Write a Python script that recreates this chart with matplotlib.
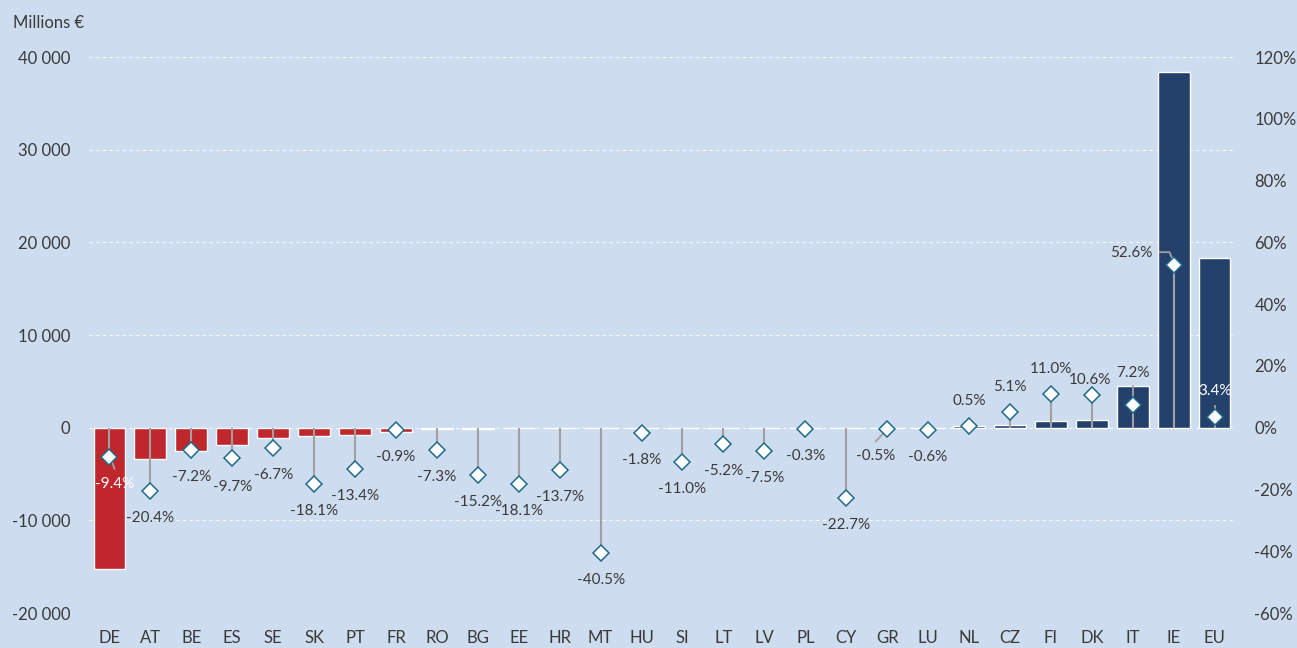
import matplotlib
matplotlib.use("Agg")
import matplotlib.pyplot as plt
import matplotlib.transforms as mtransforms
from matplotlib.ticker import FuncFormatter, FixedLocator

plt.rcParams['font.family'] = ['Lato', 'DejaVu Sans']

# Change in value (millions €) and percentage change, by country
countries = ["DE", "AT", "BE", "ES", "SE", "SK", "PT", "FR", "RO", "BG", "EE", "HR", "MT", "HU",
             "SI", "LT", "LV", "PL", "CY", "GR", "LU", "NL", "CZ", "FI", "DK", "IT", "IE", "EU"]
change_meur = [-15300, -3400, -2500, -1850, -1150, -850, -750, -500, -150, -120, -80, -60, -20, -10,
               -20, -15, -10, -5, -10, 10, 15, 140, 290, 680, 860, 4550, 38400, 18300]
change_pct = [-9.4, -20.4, -7.2, -9.7, -6.7, -18.1, -13.4, -0.9, -7.3, -15.2, -18.1, -13.7, -40.5, -1.8,
              -11.0, -5.2, -7.5, -0.3, -22.7, -0.5, -0.6, 0.5, 5.1, 11.0, 10.6, 7.2, 52.6, 3.4]

left_ticks = [-20000, -10000, 0, 10000, 20000, 30000, 40000]
right_ticks = [-60, -40, -20, 0, 20, 40, 60, 80, 100, 120]

BG = "#CDDCEE"
RED = "#C0272D"
NAVY = "#23416B"
TXT = "#3A3A3A"
GREY = "#A0A0A0"
EDGE = "#1F6A8A"

fig = plt.figure(figsize=(12.97, 6.48), dpi=100, facecolor=BG)
ax = fig.add_axes([89 / 1297, 35 / 648, (1235 - 89) / 1297, (613 - 57) / 648])
ax.set_facecolor(BG)

x = list(range(len(countries)))
colors = [RED if v < 0 else NAVY for v in change_meur]
ax.bar(x, change_meur, width=0.78, color=colors, edgecolor="white", linewidth=1.0, zorder=2)

ax.set_xlim(-0.5, len(countries) - 0.5)
ax.set_ylim(-20000, 40000)
ax.yaxis.set_major_locator(FixedLocator(left_ticks))
ax.yaxis.set_major_formatter(FuncFormatter(lambda v, p: f"{int(v):,}".replace(",", " ")))
ax.set_xticks(x)
ax.set_xticklabels(countries)
ax.grid(axis="y", color="white", linestyle=(0, (3, 3)), linewidth=0.8, alpha=0.85, zorder=0)
ax.set_axisbelow(True)
for s in ax.spines.values():
    s.set_visible(False)
ax.tick_params(axis="both", length=0, labelsize=12, labelcolor=TXT)
ax.tick_params(axis="y", pad=13.5)
ax.tick_params(axis="x", pad=12.5)

ax2 = ax.twinx()
ax2.set_ylim(-60, 120)
ax2.yaxis.set_major_locator(FixedLocator(right_ticks))
ax2.yaxis.set_major_formatter(FuncFormatter(lambda v, p: f"{int(v)}%"))
for s in ax2.spines.values():
    s.set_visible(False)
ax2.tick_params(axis="y", length=0, labelsize=12, labelcolor=TXT, pad=14)

# drop lines from zero to each percentage marker
ax2.vlines(x, 0, change_pct, color=GREY, linewidth=1.5, zorder=3)
ax2.plot(x, change_pct, linestyle="none", marker="D", markersize=8,
         markerfacecolor="white", markeredgecolor=EDGE, markeredgewidth=1.1, zorder=5)

# label placement (pixel offsets from marker: dx right, dy down)
label_offsets = {"DE": (5, 27), "ES": (0, 29), "GR": (-11, 27), "DK": (-2, -15),
                 "IT": (0, -32), "IE": (-21, -12), "EU": (1, -26)}
label_ha = {"IE": "right"}
white_labels = {"DE", "EU"}
leaders = {"DE": [(1, 1), (5, 12)], "GR": [(-2, 2), (-11, 12)],
           "IT": [(0, 0), (0, -19)], "IE": [(0, -3), (-4, -13), (-14, -13)],
           "EU": [(0, 0), (0, -11)]}

for i, (c, p) in enumerate(zip(countries, change_pct)):
    dx, dy = label_offsets.get(c, (0, 27) if p < 0 else (0, -25))
    ax2.annotate(f"{p:.1f}%", (i, p), xytext=(dx * 0.72, -dy * 0.72), textcoords="offset points",
                 ha=label_ha.get(c, "center"), va="center", fontsize=11,
                 color="white" if c in white_labels else TXT, zorder=6)
    if c in leaders:
        tr = fig.dpi_scale_trans + mtransforms.ScaledTranslation(i, p, ax2.transData)
        pts = leaders[c]
        ax2.plot([q[0] / 100 for q in pts], [-q[1] / 100 for q in pts], transform=tr,
                 color=GREY, linewidth=1.3, zorder=4, clip_on=False)

fig.text(13 / 1297, 1 - 23 / 648, "Millions €", fontsize=12, color=TXT, va="center", ha="left")

fig.savefig("out.png", dpi=100, facecolor=BG)
